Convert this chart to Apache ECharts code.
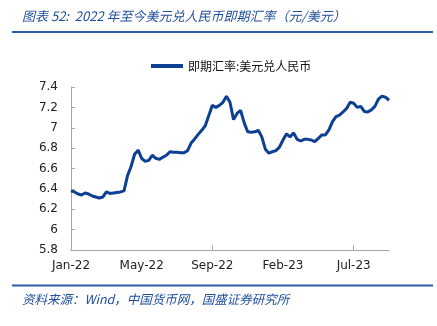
<!DOCTYPE html>
<html>
<head>
<meta charset="utf-8">
<script src="https://cdn.jsdelivr.net/npm/echarts@6/dist/echarts.min.js"></script>
<style>
html,body{margin:0;padding:0;background:#fff;}
#c{width:437px;height:326px;}
</style>
</head>
<body>
<div id="c"></div>
<script>
var titleText = '图表 52:  2022 年至今美元兑人民币即期汇率（元/美元）';
var sourceText = '资料来源：Wind，中国货币网，国盛证券研究所';
var seriesName = '即期汇率:美元兑人民币';
var tickLabels = ['Jan-22', 'May-22', 'Sep-22', 'Feb-23', 'Jul-23'];
var yTicks = [5.8, 6, 6.2, 6.4, 6.6, 6.8, 7, 7.2, 7.4];
var rates = [
  6.38, 6.37, 6.35, 6.34, 6.36, 6.35, 6.33, 6.32, 6.31, 6.32,
  6.37, 6.355, 6.36, 6.365, 6.37, 6.38, 6.53, 6.62, 6.74, 6.78,
  6.70, 6.67, 6.68, 6.73, 6.70, 6.69, 6.71, 6.73, 6.765, 6.76,
  6.76, 6.755, 6.755, 6.775, 6.85, 6.89, 6.935, 6.975, 7.02, 7.12,
  7.22, 7.20, 7.22, 7.25, 7.31, 7.25, 7.08, 7.14, 7.17, 7.05,
  6.96, 6.955, 6.96, 6.975, 6.91, 6.79, 6.75, 6.765, 6.775, 6.81,
  6.88, 6.94, 6.91, 6.95, 6.886, 6.87, 6.886, 6.886, 6.88, 6.863,
  6.896, 6.93, 6.93, 6.98, 7.06, 7.11, 7.125, 7.155, 7.19, 7.25,
  7.24, 7.20, 7.21, 7.16, 7.155, 7.175, 7.21, 7.28, 7.31, 7.30,
  7.27
];
var labelStep = 20;
var categories = rates.map(function (v, i) { return String(i); });

var chart = echarts.init(document.getElementById('c'), null, {renderer: 'canvas'});
var blue = '#1f4e9c';
chart.setOption({
  backgroundColor: '#fff',
  animation: false,
  graphic: [
    {type: 'text', left: 22, top: 10, style: {text: titleText, fill: blue, font: 'italic 13px "Noto Sans CJK SC"'}},
    {type: 'rect', shape: {x: 12, y: 31, width: 421, height: 2}, style: {fill: '#2a5aa8'}},
    {type: 'rect', shape: {x: 12, y: 284.5, width: 421, height: 2}, style: {fill: '#2a5aa8'}},
    {type: 'text', left: 22, top: 293, style: {text: sourceText, fill: blue, font: 'italic 12.5px "Noto Sans CJK SC"'}}
  ],
  legend: {
    left: 151, top: 60, padding: 0,
    icon: 'rect', itemWidth: 32, itemHeight: 4, itemGap: 10,
    textStyle: {fontFamily: '"Noto Sans CJK SC"', fontSize: 12, color: '#111'},
    data: [seriesName]
  },
  grid: {left: 71, right: 48, top: 87, bottom: 76, containLabel: false},
  xAxis: {
    type: 'category',
    data: categories,
    boundaryGap: false,
    axisLine: {lineStyle: {color: '#a6a6a6', width: 1}},
    axisTick: {show: true, interval: labelStep * 2 - 1, inside: true, length: 5, lineStyle: {color: '#a6a6a6'}},
    axisLabel: {
      interval: labelStep - 1,
      margin: 10,
      fontFamily: '"DejaVu Sans"', fontSize: 12, color: '#222',
      formatter: function (v, idx) { return tickLabels[idx / labelStep] || ''; }
    },
    splitLine: {show: false}
  },
  yAxis: {
    type: 'value',
    min: yTicks[0], max: yTicks[yTicks.length - 1], interval: 0.2,
    axisLine: {show: true, lineStyle: {color: '#a6a6a6', width: 1}},
    axisTick: {show: true, inside: true, length: 4, lineStyle: {color: '#a6a6a6'}},
    axisLabel: {
      margin: 13,
      fontFamily: '"DejaVu Sans"', fontSize: 12, color: '#222',
      formatter: function (v) { return String(Math.round(v * 10) / 10); }
    },
    splitLine: {show: false}
  },
  series: [{
    name: seriesName,
    type: 'line',
    data: rates,
    showSymbol: false,
    symbol: 'none',
    lineStyle: {color: '#0d3f94', width: 3},
    itemStyle: {color: '#0d3f94'}
  }]
});
</script>
</body>
</html>
